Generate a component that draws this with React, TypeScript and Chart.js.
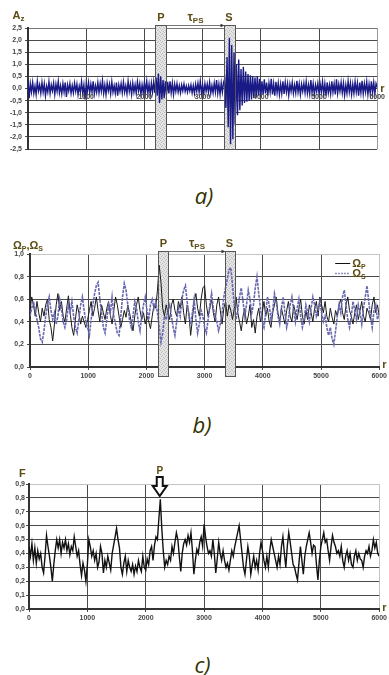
import React, { useEffect, useRef } from 'react';
import { Chart, registerables } from 'chart.js';

Chart.register(...registerables);

// ---------------- data ----------------
const R_MIN = 0;
const R_MAX = 6000;
const R_TICK_STEP = 1000;

// a) vertical component Az, one value every AZ_STEP samples
const AZ_STEP = 20;
const AZ = [
  .35,-.40,.20,-.15,.25,-.20,.10,-.25,.30,-.10,.15,-.20,.25,-.15,.20,-.30,.10,-.15,.28,-.20,
  .15,-.10,.22,-.25,.18,-.12,.30,-.18,.12,-.22,.20,-.15,.25,-.35,.15,-.10,.20,-.20,.12,-.18,
  .22,-.12,.18,-.25,.10,-.15,.28,-.20,.15,-.45,.20,-.12,.25,-.18,.18,-.15,.30,-.22,.12,-.15,
  .25,-.18,.20,-.12,.32,-.20,.15,-.25,.22,-.10,.18,-.22,.28,-.15,.12,-.20,.25,-.30,.15,-.12,
  .20,-.18,.26,-.15,.12,-.22,.30,-.12,.18,-.25,.22,-.15,.15,-.20,.28,-.10,.20,-.25,.15,-.18,
  .25,-.12,.30,-.20,.18,-.25,.22,-.15,.28,-.18,.45,-.30,.62,-.60,.50,-.45,.35,-.40,.30,-.25,
  .28,-.20,.30,-.18,.22,-.25,.18,-.12,.20,-.15,.12,-.18,.15,-.10,.18,-.12,.10,-.15,.12,-.10,
  .15,-.18,.12,-.20,.18,-.12,.22,-.15,.30,-.18,.15,-.22,.20,-.12,.18,-.15,.25,-.20,.12,-.18,
  .22,-.15,.35,-.20,.18,-.25,.22,-.15,.25,.40,-.80,1.30,-1.60,2.10,-2.30,1.80,-2.10,1.50,-1.50,1.00,
  -1.10,1.20,-.90,.80,-.70,.90,-.60,.70,-.55,.60,-.50,.55,-.45,.50,-.40,.45,-.35,.50,-.30,.40,
  -.35,.30,-.25,.38,-.20,.25,-.30,.22,-.15,.40,-.25,.20,-.30,.28,-.18,.22,-.25,.18,-.20,.30,
  -.22,.25,-.15,.20,-.28,.18,-.12,.25,-.20,.15,-.18,.32,-.15,.20,-.25,.18,-.12,.22,-.18,.28,
  -.20,.15,-.22,.35,-.18,.20,-.25,.15,-.12,.22,-.20,.18,-.15,.28,-.22,.20,-.30,.25,-.18,.15,
  -.22,.30,-.15,.20,-.25,.38,-.20,.18,-.12,.25,-.18,.22,-.28,.15,-.20,.30,-.15,.22,-.25,.18,
  -.20,.28,-.15,.22,-.30,.25,-.18,.32,-.22,.20,-.15,.28,-.25,.18,-.20,.30,-.18,.25,-.22,.20,.05,
];

// b) Omega_P and Omega_S, one value every OMEGA_STEP samples
const OMEGA_STEP = 30;
const OMEGA_P = [
  .50,.62,.55,.45,.58,.48,.40,.52,.45,.55,
  .60,.42,.35,.23,.38,.55,.65,.50,.58,.45,
  .40,.52,.63,.48,.35,.28,.42,.55,.48,.38,
  .45,.40,.35,.42,.50,.58,.45,.52,.62,.50,
  .40,.55,.48,.42,.52,.58,.46,.38,.50,.62,
  .55,.45,.35,.42,.50,.44,.55,.48,.40,.32,
  .45,.55,.62,.50,.42,.48,.38,.45,.40,.34,
  .45,.55,.52,.68,.90,.75,.52,.45,.55,.48,
  .42,.55,.60,.50,.45,.58,.52,.62,.48,.38,
  .55,.48,.28,.42,.58,.65,.52,.45,.60,.70,
  .72,.55,.45,.52,.60,.48,.40,.55,.62,.50,
  .38,.52,.58,.45,.55,.50,.42,.52,.62,.48,
  .40,.32,.45,.52,.38,.45,.55,.35,.42,.30,
  .45,.52,.40,.48,.58,.45,.52,.40,.35,.48,
  .55,.62,.48,.40,.52,.45,.38,.50,.58,.45,
  .40,.55,.48,.42,.52,.60,.45,.38,.50,.42,
  .55,.48,.40,.52,.58,.45,.62,.55,.48,.58,
  .45,.40,.52,.44,.38,.50,.45,.55,.60,.48,
  .42,.55,.62,.50,.45,.38,.48,.55,.42,.50,
  .58,.45,.40,.52,.48,.42,.55,.62,.48,.55,
  .45,
];
const OMEGA_S = [
  .45,.52,.58,.50,.42,.35,.25,.22,.32,.45,
  .55,.62,.50,.42,.48,.38,.45,.60,.52,.40,
  .35,.42,.55,.48,.58,.45,.35,.30,.42,.55,
  .62,.50,.40,.35,.28,.42,.55,.65,.72,.75,
  .60,.48,.35,.30,.42,.55,.48,.62,.45,.38,
  .30,.28,.45,.62,.74,.68,.55,.42,.35,.45,
  .58,.52,.40,.32,.45,.55,.62,.50,.42,.55,
  .60,.52,.58,.48,.35,.22,.30,.45,.42,.50,
  .55,.45,.35,.28,.40,.52,.45,.60,.68,.72,
  .58,.45,.38,.48,.60,.42,.30,.38,.50,.45,
  .35,.30,.42,.55,.65,.52,.45,.40,.32,.38,
  .48,.62,.70,.78,.86,.88,.72,.55,.42,.50,
  .62,.70,.58,.45,.55,.68,.60,.48,.55,.70,
  .80,.65,.52,.40,.35,.48,.62,.55,.42,.50,
  .65,.58,.45,.38,.52,.62,.48,.35,.42,.55,
  .62,.50,.40,.52,.60,.45,.35,.42,.55,.48,
  .40,.52,.62,.55,.45,.50,.58,.48,.40,.45,
  .35,.28,.35,.25,.20,.32,.45,.55,.48,.62,
  .68,.55,.42,.35,.45,.58,.50,.42,.55,.48,
  .38,.52,.62,.72,.58,.45,.35,.50,.55,.42,
  .48,
];

// c) F, one value every F_STEP samples
const F_STEP = 25;
const F = [
  .45,.38,.47,.35,.44,.33,.42,.36,.40,.30,
  .26,.38,.53,.45,.38,.30,.20,.32,.42,.50,
  .44,.50,.40,.48,.44,.50,.42,.47,.39,.45,
  .42,.52,.45,.38,.42,.32,.24,.33,.28,.20,
  .32,.50,.45,.38,.42,.35,.40,.30,.34,.45,
  .40,.26,.35,.30,.38,.33,.28,.40,.46,.52,
  .58,.50,.44,.30,.25,.33,.38,.27,.35,.30,
  .27,.32,.25,.31,.27,.35,.30,.27,.38,.30,
  .28,.36,.32,.42,.45,.35,.46,.52,.50,.65,
  .79,.58,.42,.30,.35,.32,.38,.35,.45,.40,
  .48,.55,.50,.38,.27,.40,.47,.50,.46,.53,
  .48,.55,.42,.25,.35,.43,.40,.48,.52,.45,
  .61,.52,.45,.40,.42,.38,.50,.40,.26,.36,
  .48,.40,.35,.42,.35,.30,.33,.28,.35,.42,
  .38,.45,.50,.55,.60,.50,.40,.30,.25,.35,
  .45,.38,.25,.32,.38,.30,.35,.28,.40,.48,
  .42,.35,.30,.38,.30,.42,.50,.45,.40,.35,
  .30,.38,.32,.45,.52,.40,.30,.45,.55,.48,
  .40,.32,.30,.25,.21,.33,.45,.35,.25,.38,
  .45,.50,.55,.48,.40,.46,.45,.32,.21,.35,
  .45,.50,.55,.48,.50,.42,.35,.45,.53,.48,
  .45,.40,.42,.38,.45,.35,.30,.38,.42,.35,
  .40,.32,.30,.38,.42,.35,.40,.36,.35,.30,
  .38,.42,.40,.45,.38,.42,.50,.44,.48,.40,
  .38,
];

// axis ranges
const AZ_RANGE = [-2.5, 2.5];
const AZ_TICK_STEP = 0.5;
const OMEGA_RANGE = [0, 1.0];
const F_RANGE = [0, 0.9];
const UNIT_TICK_STEP = 0.1;

// P / S windows (samples) and P pick
const P_WINDOW_A = [2190, 2370];
const S_WINDOW_A = [3370, 3550];
const P_WINDOW_B = [2200, 2365];
const S_WINDOW_B = [3350, 3520];
const P_PICK = 2240;

// ---------------- styling ----------------
const OLIVE = '#5b4b14';
const FONT = "'Liberation Sans', Arial, sans-serif";
const TICK_FONT = { family: FONT, size: 7, weight: 'bold' as const };
const TICK_COLOR = '#454545';

const fmt = (v: number) => (Math.round(v * 10) / 10).toFixed(1).replace('.', ',');
const toPoints = (arr: number[], step: number) => arr.map((v, i) => ({ x: i * step, y: v }));

type Seg = { t: string; sub?: boolean };
function drawRich(ctx: CanvasRenderingContext2D, segs: Seg[], x: number, y: number, size: number, subSize: number, align: 'left' | 'center', color = OLIVE) {
  const fm = (s: number) => `bold ${s}px ${FONT}`;
  let total = 0;
  const widths = segs.map((s) => {
    ctx.font = fm(s.sub ? subSize : size);
    const w = ctx.measureText(s.t).width;
    total += w;
    return w;
  });
  let cx = align === 'center' ? x - total / 2 : x;
  ctx.save();
  ctx.fillStyle = color;
  ctx.textBaseline = 'alphabetic';
  ctx.textAlign = 'left';
  segs.forEach((s, i) => {
    ctx.font = fm(s.sub ? subSize : size);
    ctx.fillText(s.t, cx, s.sub ? y + size * 0.22 : y);
    cx += widths[i];
  });
  ctx.restore();
}

const patCache = new WeakMap<CanvasRenderingContext2D, CanvasPattern>();
function getPattern(ctx: CanvasRenderingContext2D) {
  let p = patCache.get(ctx);
  if (!p) {
    const c = document.createElement('canvas');
    c.width = 4; c.height = 4;
    const g = c.getContext('2d')!;
    g.fillStyle = '#e4e4e4'; g.fillRect(0, 0, 4, 4);
    g.fillStyle = '#bdbdbd';
    g.fillRect(0, 0, 1, 1); g.fillRect(2, 1, 1, 1); g.fillRect(1, 2, 1, 1); g.fillRect(3, 3, 1, 1);
    p = ctx.createPattern(c, 'repeat')!;
    patCache.set(ctx, p);
  }
  return p;
}

function windowRects(chart: any, wins: number[][], bottomExtra: number) {
  const ca = chart.chartArea;
  const x = chart.scales.x;
  const top = Math.round(ca.top - 3.5) + 0.5;
  const bottom = Math.round(ca.bottom + bottomExtra) + 0.5;
  return wins.map(([a, b]) => ({
    x1: Math.round(x.getPixelForValue(a)) + 0.5,
    x2: Math.round(x.getPixelForValue(b)) + 0.5,
    top, bottom,
  }));
}

function fillWindows(chart: any, wins: number[][], bottomExtra: number) {
  const ctx = chart.ctx as CanvasRenderingContext2D;
  ctx.save();
  ctx.fillStyle = getPattern(ctx);
  windowRects(chart, wins, bottomExtra).forEach((r) => ctx.fillRect(r.x1, r.top, r.x2 - r.x1, r.bottom - r.top));
  ctx.restore();
}

function outlineWindows(chart: any, wins: number[][], bottomExtra: number) {
  const ctx = chart.ctx as CanvasRenderingContext2D;
  const rects = windowRects(chart, wins, bottomExtra);
  ctx.save();
  ctx.strokeStyle = '#555';
  ctx.lineWidth = 1;
  rects.forEach((r) => ctx.strokeRect(r.x1, r.top, r.x2 - r.x1, r.bottom - r.top));
  const [p, s] = rects;
  const ay = p.top;
  ctx.strokeStyle = '#777';
  ctx.beginPath(); ctx.moveTo(p.x2, ay); ctx.lineTo(s.x1 - 2, ay); ctx.stroke();
  ctx.fillStyle = '#333';
  ctx.beginPath(); ctx.moveTo(s.x1, ay); ctx.lineTo(s.x1 - 4, ay - 1.8); ctx.lineTo(s.x1 - 4, ay + 1.8); ctx.closePath(); ctx.fill();
  ctx.restore();
  const lb = chart.chartArea.top - 7.5;
  drawRich(ctx, [{ t: 'P' }], (p.x1 + p.x2) / 2, lb, 11, 7, 'center');
  drawRich(ctx, [{ t: 'S' }], (s.x1 + s.x2) / 2 - 1, lb, 11, 7, 'center');
  drawRich(ctx, [{ t: 'τ' }, { t: 'PS', sub: true }], (p.x2 + s.x1) / 2, lb, 12, 8, 'center');
}

const gridColor = (edge: number, edgeColor: string, normal: string) => (c: any) =>
  c.tick && Math.abs(c.tick.value - edge) < 1e-6 ? edgeColor : normal;

const pluginA = {
  id: 'annA',
  beforeDatasetsDraw(chart: any) { fillWindows(chart, [P_WINDOW_A, S_WINDOW_A], 0); },
  afterDatasetsDraw(chart: any) {
    outlineWindows(chart, [P_WINDOW_A, S_WINDOW_A], 0);
    const ctx = chart.ctx;
    const ca = chart.chartArea;
    drawRich(ctx, [{ t: 'A' }, { t: 'z', sub: true }], 12.5, 19, 11, 8, 'left');
    const y0 = chart.scales.y.getPixelForValue(0);
    drawRich(ctx, [{ t: 'r' }], ca.right + 3, y0 + 3, 11, 7, 'left');
  },
};

const pluginB = {
  id: 'annB',
  beforeDatasetsDraw(chart: any) { fillWindows(chart, [P_WINDOW_B, S_WINDOW_B], 9); },
  afterDatasetsDraw(chart: any) {
    outlineWindows(chart, [P_WINDOW_B, S_WINDOW_B], 9);
    const ctx = chart.ctx as CanvasRenderingContext2D;
    const ca = chart.chartArea;
    drawRich(ctx, [{ t: 'Ω' }, { t: 'P', sub: true }, { t: ',' }, { t: 'Ω' }, { t: 'S', sub: true }], 13, 18.5, 11, 7, 'left');
    drawRich(ctx, [{ t: 'r' }], ca.right + 3, ca.bottom + 1, 11, 7, 'left');
    // legend
    ctx.save();
    ctx.fillStyle = '#fff';
    ctx.fillRect(ca.right - 49, ca.top + 1, 44, 20);
    ctx.strokeStyle = '#111';
    ctx.lineWidth = 1;
    ctx.beginPath(); ctx.moveTo(ca.right - 44, ca.top + 9.5); ctx.lineTo(ca.right - 29, ca.top + 9.5); ctx.stroke();
    ctx.strokeStyle = '#6b6bb5';
    ctx.lineWidth = 1.5;
    ctx.setLineDash([1.5, 1.5]);
    ctx.beginPath(); ctx.moveTo(ca.right - 44, ca.top + 19.5); ctx.lineTo(ca.right - 29, ca.top + 19.5); ctx.stroke();
    ctx.restore();
    drawRich(ctx, [{ t: 'Ω' }, { t: 'P', sub: true }], ca.right - 27, ca.top + 12.5, 11, 7, 'left');
    drawRich(ctx, [{ t: 'Ω' }, { t: 'S', sub: true }], ca.right - 27, ca.top + 22.5, 11, 7, 'left');
  },
};

const pluginC = {
  id: 'annC',
  afterDatasetsDraw(chart: any) {
    const ctx = chart.ctx as CanvasRenderingContext2D;
    const ca = chart.chartArea;
    const cx = chart.scales.x.getPixelForValue(P_PICK);
    drawRich(ctx, [{ t: 'P' }], cx, ca.top - 10, 10, 7, 'center');
    const t = ca.top;
    ctx.save();
    ctx.beginPath();
    ctx.moveTo(cx - 3, t - 7);
    ctx.lineTo(cx + 3, t - 7);
    ctx.lineTo(cx + 3, t + 2);
    ctx.lineTo(cx + 7, t + 2);
    ctx.lineTo(cx, t + 12);
    ctx.lineTo(cx - 7, t + 2);
    ctx.lineTo(cx - 3, t + 2);
    ctx.closePath();
    ctx.fillStyle = '#fff';
    ctx.fill();
    ctx.strokeStyle = '#111';
    ctx.lineWidth = 2;
    ctx.lineJoin = 'miter';
    ctx.stroke();
    ctx.restore();
    drawRich(ctx, [{ t: 'F' }], 19, 26.5, 11, 7, 'left');
    drawRich(ctx, [{ t: 'r' }], ca.right + 3, ca.bottom + 2, 11, 7, 'left');
  },
};

function baseOptions(padding: any) {
  return {
    animation: false as const,
    responsive: false,
    events: [] as any[],
    layout: { padding },
    plugins: { legend: { display: false }, tooltip: { enabled: false } },
  };
}

function yAxis(range: number[], step: number, width: number, pad: number, topColor: string) {
  return {
    min: range[0],
    max: range[1],
    ticks: { stepSize: step, padding: pad, font: TICK_FONT, color: TICK_COLOR, callback: (v: any) => fmt(Number(v)) },
    grid: { color: gridColor(range[1], topColor, '#4a4a4a'), tickLength: 3, tickColor: '#4a4a4a', lineWidth: 1 },
    border: { color: '#333', width: 2 },
    afterFit: (s: any) => { s.width = width; },
  };
}

function xAxisBottom() {
  return {
    type: 'linear' as const,
    min: R_MIN,
    max: R_MAX,
    ticks: {
      stepSize: R_TICK_STEP, padding: 2, font: TICK_FONT, color: TICK_COLOR, maxRotation: 0, autoSkip: false,
      callback: (v: any) => String(v),
    },
    grid: { color: gridColor(R_MAX, '#c4c4c4', '#4a4a4a'), tickLength: 3, tickColor: '#4a4a4a', lineWidth: 1 },
    border: { color: '#333', width: 2 },
    afterFit: (s: any) => { s.height = 14; },
  };
}

export default function App() {
  const refA = useRef<HTMLCanvasElement>(null);
  const refB = useRef<HTMLCanvasElement>(null);
  const refC = useRef<HTMLCanvasElement>(null);

  useEffect(() => {
    const charts: Chart[] = [];

    charts.push(new Chart(refA.current!, {
      type: 'line',
      data: {
        datasets: [{
          data: toPoints(AZ, AZ_STEP),
          borderColor: '#1a1a86',
          borderWidth: 1.4,
          pointRadius: 0,
          tension: 0,
        }],
      },
      options: {
        ...baseOptions({ top: 28, bottom: 11, left: 0, right: 9 }),
        scales: {
          x: {
            type: 'linear',
            position: { y: 0 } as any,
            min: R_MIN,
            max: R_MAX,
            ticks: {
              stepSize: R_TICK_STEP, padding: 4, z: 1, font: TICK_FONT, color: TICK_COLOR,
              maxRotation: 0, autoSkip: false,
              callback: (v: any) => (Number(v) === 0 ? '' : String(v)),
            },
            grid: { color: gridColor(R_MAX, '#9a9a9a', '#4a4a4a'), drawTicks: false, lineWidth: 1 },
            border: { display: false },
          },
          y: yAxis(AZ_RANGE, AZ_TICK_STEP, 28, 3, '#777'),
        },
      } as any,
      plugins: [pluginA],
    }));

    charts.push(new Chart(refB.current!, {
      type: 'line',
      data: {
        datasets: [
          {
            label: 'ΩS',
            data: toPoints(OMEGA_S, OMEGA_STEP),
            borderColor: '#6868b0',
            borderWidth: 1.6,
            borderDash: [3, 1],
            pointRadius: 0,
            tension: 0,
          },
          {
            label: 'ΩP',
            data: toPoints(OMEGA_P, OMEGA_STEP),
            borderColor: '#1a1a1a',
            borderWidth: 1,
            pointRadius: 0,
            tension: 0,
          },
        ],
      },
      options: {
        ...baseOptions({ top: 24, bottom: 9, left: 0, right: 7 }),
        scales: {
          x: xAxisBottom(),
          y: yAxis(OMEGA_RANGE, UNIT_TICK_STEP, 30, 3, '#c4c4c4'),
        },
      } as any,
      plugins: [pluginB],
    }));

    charts.push(new Chart(refC.current!, {
      type: 'line',
      data: {
        datasets: [{
          data: toPoints(F, F_STEP),
          borderColor: '#111',
          borderWidth: 1.4,
          pointRadius: 0,
          tension: 0,
        }],
      },
      options: {
        ...baseOptions({ top: 34, bottom: 7, left: 0, right: 6 }),
        scales: {
          x: xAxisBottom(),
          y: yAxis(F_RANGE, UNIT_TICK_STEP, 29, 1, '#c4c4c4'),
        },
      } as any,
      plugins: [pluginC],
    }));

    return () => charts.forEach((c) => c.destroy());
  }, []);

  const caption = (text: string, cx: number, baseline: number) => (
    <div
      style={{
        position: 'absolute',
        left: cx,
        top: baseline - 19.5,
        transform: 'translateX(-50%)',
        font: "italic 22px/22px 'Open Sans', sans-serif",
        color: '#333300',
        whiteSpace: 'nowrap',
      }}
    >
      {text}
    </div>
  );

  return (
    <div style={{ position: 'fixed', left: 0, top: 0, width: 389, height: 675, background: '#fff', overflow: 'hidden' }}>
      <canvas ref={refA} width={389} height={160} style={{ position: 'absolute', left: 0, top: 0, width: 389, height: 160 }} />
      {caption('a)', 204, 203)}
      <canvas ref={refB} width={389} height={160} style={{ position: 'absolute', left: 0, top: 230, width: 389, height: 160 }} />
      {caption('b)', 202, 432)}
      <canvas ref={refC} width={389} height={180} style={{ position: 'absolute', left: 0, top: 450, width: 389, height: 180 }} />
      {caption('c)', 202.5, 672)}
    </div>
  );
}
